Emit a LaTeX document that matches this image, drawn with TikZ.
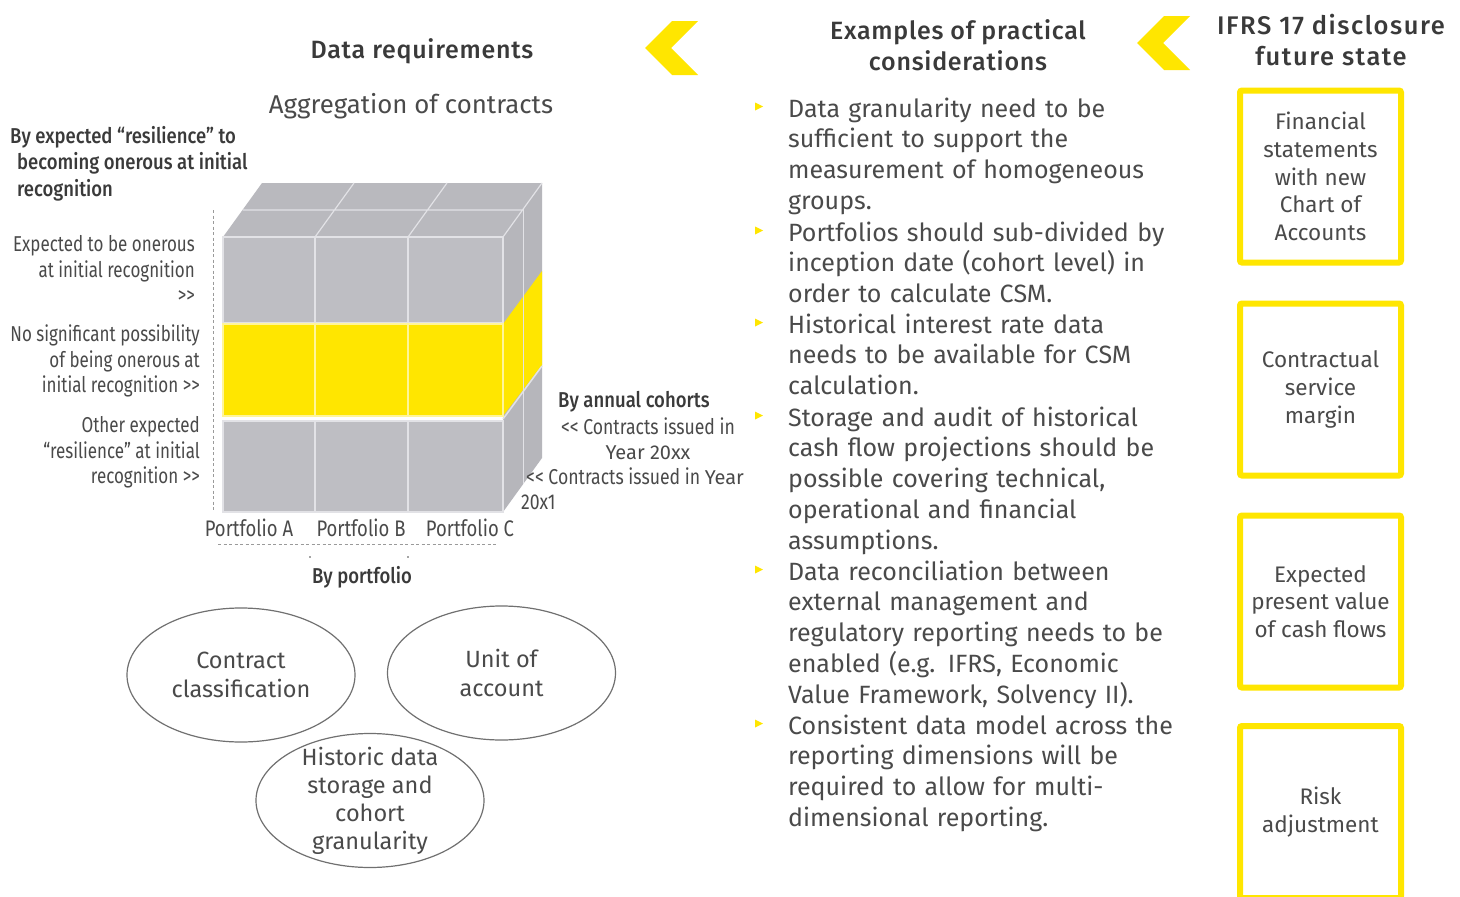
\documentclass[tikz,border=0pt]{standalone}
\usepackage{fontspec}
\setmainfont{Fira Sans}
\newfontfamily\cond{Fira Sans}[FakeStretch=0.82]
\newfontfamily\condn{Fira Sans}[FakeStretch=0.79]
\newfontfamily\medf{Fira Sans Medium}[LetterSpace=3]
\newfontfamily\medfw{Fira Sans Medium}[LetterSpace=6]
\newfontfamily\condmed{Fira Sans Medium}[FakeStretch=0.86]
\usetikzlibrary{shapes.geometric}
\definecolor{eyyellow}{HTML}{FFE600}
\definecolor{txt}{HTML}{4A4A4A}
\definecolor{ttl}{HTML}{3A3A3A}
\definecolor{cubefront}{HTML}{BEBEC3}
\definecolor{cubetop}{HTML}{B9B9BE}
\definecolor{cubeside}{HTML}{B6B6BB}
\definecolor{cubeline}{HTML}{E2E2E6}
\definecolor{ellline}{HTML}{707070}
\definecolor{dashgray}{HTML}{9A9A9A}
\tikzset{
  title/.style={font=\medf\fontsize{25}{30.5}\selectfont, text=ttl, align=center, inner sep=0},
  body/.style={font=\fontsize{25}{30.8}\selectfont, text=txt, inner sep=0, anchor=base west, align=left, text width=430pt},
  boxtext/.style={font=\fontsize{22.5}{27.6}\selectfont, text=txt, align=center},
  ifrsbox/.style={draw=eyyellow, line width=6pt, rounded corners=2pt, minimum width=161pt, minimum height=172pt, fill=white, boxtext},
  ell/.style={ellipse, draw=ellline, line width=1.2pt, fill=white, minimum width=228pt, minimum height=134pt, inner sep=0},
  elltext/.style={inner sep=0, text=txt, align=center, font=\fontsize{23.5}{28.5}\selectfont},
  sidelab/.style={font=\cond\fontsize{21.5}{25.3}\selectfont, text=txt, inner sep=0},
  leftlab/.style={font=\condn\fontsize{21.5}{25.3}\selectfont, text=txt, inner sep=0, anchor=east, align=right},
  portlab/.style={font=\cond\fontsize{22.5}{25.3}\selectfont, text=txt, inner sep=0},
  sidehead/.style={font=\condmed\fontsize{21.5}{26.5}\selectfont, text=ttl, inner sep=0},
  cell/.style={draw=cubeline, line width=1.2pt},
  bullet/.style={fill=eyyellow},
  guide/.style={draw=dashgray, line width=0.9pt, dash pattern=on 3pt off 2.5pt}
}
\begin{document}
\begin{tikzpicture}[x=1pt,y=-1pt]
\useasboundingbox[fill=white] (0,0) rectangle (1460,897);

% ---------- titles and chevrons ----------
\node[title] (t1) at (422,51) {Data requirements};
\node[title] (t2) at (958,45) {Examples of practical\\considerations};
\node[title, font=\medfw\fontsize{25.5}{31}\selectfont] (t3) at (1331,40) {IFRS 17 disclosure\\future state};
\fill[eyyellow] (645,48) -- (672,21) -- (698,21) -- (671,48) -- (698,75) -- (672,75) -- cycle;
\fill[eyyellow] (1137,43) -- (1164,16) -- (1190,16) -- (1163,43) -- (1190,70) -- (1164,70) -- cycle;

\node[font=\fontsize{25.8}{30}\selectfont, text=txt, inner sep=0] (agg) at (411,106) {Aggregation of contracts};

% ---------- cube ----------
\fill[cubetop] (223,237) -- (503,237) -- (542,183) -- (262,183) -- cycle;
\fill[cubeside] (503,237) -- (542,183) -- (542,458) -- (503,512) -- cycle;
\draw[cubeline, line width=1.2pt] (315,237) -- (354,183) (408,237) -- (447,183)
   (242.5,210) -- (522.5,210) (223,237) -- (503,237) -- (542,183);
\fill[eyyellow] (503,324) -- (542,271) -- (542,365) -- (503,416) -- cycle;
\draw[cubeline, line width=1.5pt] (503,419) -- (542,366);
\draw[cubeline, line width=1pt] (523,209) -- (523,484);
\foreach \xa/\xb in {223/315,315/408,408/503}{
  \filldraw[cell, fill=cubefront] (\xa,237) rectangle (\xb,323);
  \filldraw[cell, fill=eyyellow, draw=eyyellow!40!white] (\xa,324) rectangle (\xb,416);
  \filldraw[cell, fill=cubefront] (\xa,421) rectangle (\xb,512);
}

% guides
\draw[guide] (213,210) -- (213,512);
\draw[guide] (218,544) -- (498,544);
\fill[txt] (310,557) circle (0.9);
\fill[txt] (408,557) circle (0.9);

% ---------- side labels ----------
\node[sidehead, anchor=west, align=left] (res) at (17,163.5)
  {\hspace*{-7pt}By expected “resilience” to\\becoming onerous at initial\\recognition};
\node[leftlab] (l1) at (195,269)
  {Expected to be onerous\\at initial recognition\\>>};
\node[leftlab] (l2) at (200,361)
  {No significant possibility\\of being onerous at\\initial recognition >>};
\node[leftlab] (l3) at (200,452.5)
  {Other expected\\“resilience” at initial\\recognition >>};

\node[sidehead, anchor=west] (coh) at (558,402) {By annual cohorts};
\node[sidelab, align=center] (c1) at (648,439)
  {<< Contracts issued in\\{\rmfamily\fontsize{20}{25}\selectfont Year 20xx}};
\node[sidelab, align=left, anchor=west] (c2) at (521,489)
  {\hspace*{5pt}<< Contracts issued in {\rmfamily\fontsize{20}{25}\selectfont Year}\\20x1};

\node[portlab] (pa) at (249,528) {Portfolio A};
\node[portlab] (pb) at (361,528) {Portfolio B};
\node[portlab] (pc) at (470,528) {Portfolio C};
\node[sidehead] (byp) at (362,577) {By portfolio};

% ---------- ellipses ----------
\node[ell] (e1) at (241,675) {};
\node[elltext] (e1t) at (e1) {Contract\\classification};
\node[ell] (e2) at (501.5,673) {};
\node[elltext] (e2t) at (e2) {Unit of\\account};
\node[ell] (e3) at (370,800.5) {};
\node[elltext, font=\fontsize{23.5}{28}\selectfont] (e3t) at (e3) {Historic data\\storage and\\cohort\\granularity};

% ---------- bullets ----------
\foreach \y in {108,232,324,417,571,725}{
  \fill[bullet] (755,\y-5.5) -- (763,\y-1.5) -- (755,\y+2.5) -- cycle;
}
\node[body] (p1) at (788,117) {Data granularity need to be\\sufficient to support the\\measurement of homogeneous\\groups.};
\node[body] (p2) at (788,241) {Portfolios should sub-divided by\\inception date (cohort level) in\\order to calculate CSM.};
\node[body] (p3) at (788,333) {Historical interest rate data\\needs to be available for CSM\\calculation.};
\node[body] (p4) at (788,426) {Storage and audit of historical\\cash flow projections should be\\possible covering technical,\\operational and financial\\assumptions.};
\node[body] (p5) at (788,580) {Data reconciliation between\\external management and\\regulatory reporting needs to be\\enabled (e.g. IFRS, Economic\\Value Framework, Solvency II).};
\node[body] (p6) at (788,734) {Consistent data model across the\\reporting dimensions will be\\required to allow for multi-\\dimensional reporting.};

% ---------- IFRS boxes ----------
\node[ifrsbox] (b1) at (1320.5,176.5) {Financial\\statements\\with new\\Chart of\\Accounts};
\node[ifrsbox] (b2) at (1320.5,389.5) {Contractual\\service\\margin};
\node[ifrsbox] (b3) at (1320.5,601.5) {Expected\\present value\\of cash flows};
\node[ifrsbox] (b4) at (1320.5,812) {Risk\\adjustment};
\end{tikzpicture}
\end{document}
